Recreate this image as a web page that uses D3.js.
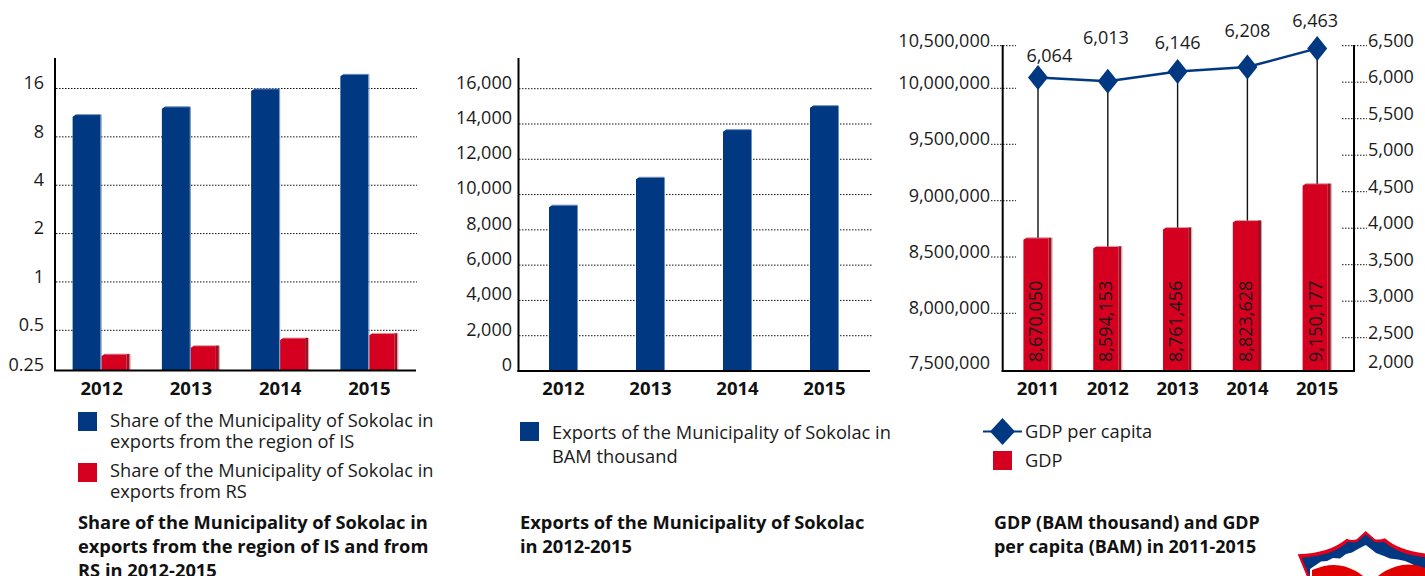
<!DOCTYPE html>
<html>
<head>
<meta charset="utf-8">
<script src="https://cdn.jsdelivr.net/npm/d3@7/dist/d3.min.js"></script>
<style>
  html, body { margin: 0; padding: 0; background: #fff; overflow: hidden; }
  svg { display: block; }
  text { font-family: "Open Sans", sans-serif; fill: #1a1a1a; }
  .tick-label { font-size: 18px; }
  .year { font-size: 18.5px; font-weight: 700; fill: #111; }
  .legend { font-size: 18.25px; }
  .title { font-size: 18.3px; font-weight: 700; fill: #111; }
  .title-narrow { font-size: 17.9px; font-weight: 700; fill: #111; }
</style>
</head>
<body>
<svg id="chart" width="1425" height="576"></svg>
<script>
// Municipality of Sokolac: exports and GDP, 2011-2015
const exportYears = ["2012", "2013", "2014", "2015"];
const gdpYears = ["2011", "2012", "2013", "2014", "2015"];

const shareIS = [11.0, 12.3, 15.9, 19.6];
const shareRS = [0.33, 0.382, 0.437, 0.474];
const shareTicks = [0.25, 0.5, 1, 2, 4, 8, 16];

const exportsBAM = [9400, 10980, 13680, 15040];
const exportTicks = [0, 2000, 4000, 6000, 8000, 10000, 12000, 14000, 16000];

const gdp = [8670050, 8594153, 8761456, 8823628, 9150177];
const gdpPerCapita = [6064, 6013, 6146, 6208, 6463];
const gdpTicks = [7500000, 8000000, 8500000, 9000000, 9500000, 10000000, 10500000];
const perCapitaTicks = [2000, 2500, 3000, 3500, 4000, 4500, 5000, 5500, 6000, 6500];
const perCapitaLabelLift = [21, 43, 28, 36, 27];
const perCapitaLabelShift = [11.3, -1.8, 0, 0, -2];

const BLUE = "#003882", BLUE_EDGE = "#6f8fc0";
const RED = "#d5001f", RED_SIDE = "#9c1020", RED_EDGE = "#dca0a8";
const fmt = d3.format(",");

const svg = d3.select("#chart");

// A bar with a clipped top-left corner, a pale right edge and an optional shaded side.
function bar(g, x, w, top, bottom, fill, edge, side) {
  const sideW = side ? 3 : 0;
  const frontR = x + w - sideW - 1;
  g.append("path")
    .attr("d", `M${x},${bottom}V${top + 2}L${x + 3},${top}H${frontR}V${bottom}Z`)
    .attr("fill", fill);
  g.append("rect").attr("x", x + 3).attr("y", top - 0.5).attr("width", w - 4).attr("height", 1)
    .attr("fill", edge);
  if (side) {
    g.append("rect").attr("x", frontR).attr("y", top).attr("width", sideW)
      .attr("height", bottom - top).attr("fill", side);
  }
  g.append("rect").attr("x", x + w - 1).attr("y", top).attr("width", 1)
    .attr("height", bottom - top).attr("fill", edge);
}

function dotted(g, x1, x2, y) {
  g.append("line").attr("x1", x1).attr("x2", x2).attr("y1", y).attr("y2", y)
    .attr("stroke", "#111").attr("stroke-width", 1).attr("stroke-dasharray", "1.5 1.5");
}

function rule(g, x1, y1, x2, y2, w) {
  g.append("line").attr("x1", x1).attr("y1", y1).attr("x2", x2).attr("y2", y2)
    .attr("stroke", "#000").attr("stroke-width", w);
}

function tickLabel(g, x, y, text, anchor) {
  g.append("text").attr("class", "tick-label").attr("x", x).attr("y", y + 1)
    .attr("text-anchor", anchor).attr("dominant-baseline", "middle").text(text);
}

function yearLabels(g, scale, years, y) {
  years.forEach(d => {
    g.append("text").attr("class", "year")
      .attr("x", scale(d) + scale.bandwidth() / 2).attr("y", y)
      .attr("text-anchor", "middle").attr("dominant-baseline", "middle").text(d);
  });
}

function legendText(g, x, y, lines, cls, lh) {
  lines.forEach((l, i) => {
    g.append("text").attr("class", cls).attr("x", x).attr("y", y + i * lh)
      .attr("dominant-baseline", "middle").text(l);
  });
}

// Left panel: shares on a base-2 logarithmic axis
{
  const g = svg.append("g");
  const x = d3.scaleBand().domain(exportYears).range([57, 414]).paddingInner(0.35).paddingOuter(0.175);
  const y = d3.scaleLog().base(2).domain([0.25, 0.5, 16]).range([370, 330.3, 88.5]);
  shareTicks.slice(1).forEach(t => dotted(g, 56, 417, y(t)));
  shareTicks.forEach(t => tickLabel(g, 44, y(t) - 5, String(t), "end"));
  const half = x.bandwidth() / 2;
  exportYears.forEach((d, i) => {
    bar(g, x(d), half, y(shareIS[i]), y.range()[0], BLUE, BLUE_EDGE, null);
    bar(g, x(d) + half, half, y(shareRS[i]), y.range()[0], RED, RED_EDGE, RED_SIDE);
  });
  rule(g, 55, 58, 55, 371, 2);
  rule(g, 54, 370.5, 416, 370.5, 2);
  yearLabels(g, x, exportYears, 390.5);

  g.append("rect").attr("x", 78).attr("y", 412).attr("width", 19).attr("height", 19).attr("fill", BLUE);
  legendText(g, 110, 422, ["Share of the Municipality of Sokolac in", "exports from the region of IS"], "legend", 21);
  g.append("rect").attr("x", 78).attr("y", 463).attr("width", 19).attr("height", 19).attr("fill", RED);
  legendText(g, 110, 472, ["Share of the Municipality of Sokolac in", "exports from RS"], "legend", 21);
  legendText(g, 78, 524, ["Share of the Municipality of Sokolac in", "exports from the region of IS and from", "RS in 2012-2015"], "title", 24);
}

// Middle panel: exports in BAM thousand
{
  const g = svg.append("g");
  const x = d3.scaleBand().domain(exportYears).range([520, 868]).paddingInner(2 / 3).paddingOuter(1 / 3);
  const y = d3.scaleLinear().domain([0, 16000]).range([371, 88.7]);
  exportTicks.slice(1).forEach(t => dotted(g, 519, 872, y(t)));
  exportTicks.forEach(t => tickLabel(g, 512, y(t) - 6, fmt(t), "end"));
  exportYears.forEach((d, i) => {
    bar(g, x(d), x.bandwidth(), y(exportsBAM[i]), y(0), BLUE, BLUE_EDGE, null);
  });
  rule(g, 518.5, 58, 518.5, 372, 2);
  rule(g, 517.5, 371, 870, 371, 2);
  yearLabels(g, x, exportYears, 390.5);

  g.append("rect").attr("x", 520).attr("y", 422).attr("width", 19).attr("height", 19).attr("fill", BLUE);
  legendText(g, 552, 434, ["Exports of the Municipality of Sokolac in", "BAM thousand"], "legend", 24);
  legendText(g, 520, 524, ["Exports of the Municipality of Sokolac", "in 2012-2015"], "title", 24);
}

// Right panel: GDP bars with GDP per capita on a second axis
{
  const g = svg.append("g");
  const x = d3.scaleBand().domain(gdpYears).range([1003.1, 1352.1]).paddingInner(0.582).paddingOuter(0.291);
  const yL = d3.scaleLinear()
    .domain(gdpTicks)
    .range([370.5, 313.3, 257, 200.7, 144.3, 88.3, 45.7]);
  const yR = d3.scaleLinear().domain([2000, 2500, 6500]).range([370.5, 337.7, 45.7]);
  const cx = d => x(d) + x.bandwidth() / 2;

  gdpTicks.forEach((t, i) => {
    if (i > 0) dotted(g, 991, 1016, yL(t));
    tickLabel(g, 990, yL(t) - (i > 0 ? 5 : 7), fmt(t), "end");
  });
  perCapitaTicks.forEach((t, i) => {
    if (i > 0) dotted(g, 1342, 1367, yR(t));
    tickLabel(g, 1368, yR(t) - (i > 0 ? 5 : 8), fmt(t), "start");
  });

  gdpYears.forEach((d, i) => {
    bar(g, x(d), x.bandwidth(), yL(gdp[i]), yL(gdpTicks[0]), RED, RED_EDGE, RED_SIDE);
    g.append("line").attr("x1", cx(d)).attr("x2", cx(d))
      .attr("y1", yR(gdpPerCapita[i])).attr("y2", yL(gdp[i]))
      .attr("stroke", "#111").attr("stroke-width", 1.4);
  });

  rule(g, 1002.7, 45, 1002.7, 372, 2);
  rule(g, 1354, 45, 1354, 372, 2);
  rule(g, 1001.7, 371, 1355, 371, 2);

  const line = d3.line().x(d => cx(d)).y((d, i) => yR(gdpPerCapita[i]));
  g.append("path").attr("d", line(gdpYears)).attr("fill", "none")
    .attr("stroke", BLUE).attr("stroke-width", 2.5);
  const diamond = "M0,-12.5L10,0L0,12.5L-10,0Z";
  gdpYears.forEach((d, i) => {
    g.append("path").attr("d", diamond).attr("fill", BLUE)
      .attr("transform", `translate(${cx(d)},${yR(gdpPerCapita[i])})`);
    g.append("text").attr("class", "tick-label")
      .attr("x", cx(d) + perCapitaLabelShift[i]).attr("y", yR(gdpPerCapita[i]) - perCapitaLabelLift[i] + 1)
      .attr("text-anchor", "middle").attr("dominant-baseline", "middle")
      .text(fmt(gdpPerCapita[i]));
    g.append("text").attr("class", "tick-label")
      .attr("transform", `translate(${cx(d) - 0.5},362) rotate(-90)`)
      .attr("dominant-baseline", "middle").text(fmt(gdp[i]));
  });
  yearLabels(g, x, gdpYears, 390.5);

  g.append("line").attr("x1", 983).attr("x2", 1022).attr("y1", 431.5).attr("y2", 431.5)
    .attr("stroke", BLUE).attr("stroke-width", 2.2);
  g.append("path").attr("d", "M0,-13.5L12.5,0L0,13.5L-12.5,0Z").attr("fill", BLUE)
    .attr("transform", "translate(1002.5,431.5)");
  legendText(g, 1025, 433.5, ["GDP per capita"], "legend", 0);
  g.append("rect").attr("x", 993).attr("y", 451).attr("width", 19).attr("height", 19).attr("fill", RED);
  legendText(g, 1025, 462.5, ["GDP"], "legend", 0);
  legendText(g, 994, 524, ["GDP (BAM thousand) and GDP", "per capita (BAM) in 2011-2015"], "title-narrow", 24);
}

// Municipal crest in the lower right corner
{
  const crest = svg.append("g");
  crest.append("path")
    .attr("d", "M1297.7,554.3Q1330,553 1346.7,538.7Q1352,541 1356.7,539.3L1365.7,531L1375,539.3Q1380,540 1385,538.3Q1400,552 1434,554.3L1425,576H1306.7Z")
    .attr("fill", "#e2001a");
  crest.append("path")
    .attr("d", "M1301.7,557.7Q1333,556 1348.3,541.5Q1352,543 1357,542L1365.7,534.5L1374.5,542Q1380,543 1383.5,541.5Q1400,556 1430,557.7L1425,576H1309.5Z")
    .attr("fill", "#003882");
  crest.append("path")
    .attr("d", "M1310,569L1321,561.5L1327,561L1333,558L1340,558.5L1346,554L1352,552.5L1358,549L1365.7,545L1371,549L1376,553L1384,556L1390,558.5L1398,559.5L1405,561L1412,564L1418,568L1425,572V576H1310Z")
    .attr("fill", "#fff");
  crest.append("path")
    .attr("d", "M1312,576V570Q1330,562 1345,566.5Q1356,570 1363,576Z")
    .attr("fill", "#e00000");
  crest.append("path")
    .attr("d", "M1378,576Q1385,570 1396,566.5Q1411,562 1425,568V576Z")
    .attr("fill", "#e00000");
}
</script>
</body>
</html>
